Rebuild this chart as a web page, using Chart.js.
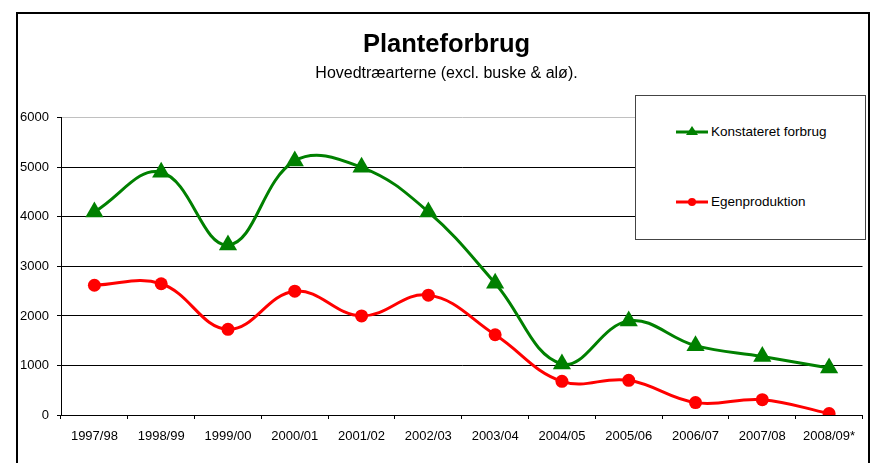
<!DOCTYPE html>
<html>
<head>
<meta charset="utf-8">
<script src="https://cdn.jsdelivr.net/npm/chart.js@4/dist/chart.umd.min.js"></script>
<style>
  html, body { margin: 0; padding: 0; background: #fff; }
  #wrap { position: relative; width: 873px; height: 463px; overflow: hidden; }
  #frame { position: absolute; left: 16px; top: 12px; width: 850px; height: 470px; border: 2px solid #000; }
  canvas { position: absolute; left: 0; top: 0; }
  #legend {
    position: absolute; left: 635px; top: 95px; width: 229px; height: 143px;
    border: 1px solid #444; background: #fff;
    font-family: "Liberation Sans", Arial, sans-serif; font-size: 13.5px; color: #000;
  }
  .item { position: absolute; left: 40px; height: 16px; line-height: 16px; white-space: nowrap; }
  .item svg { position: absolute; left: 0; top: -2px; }
  .item span { position: absolute; left: 35px; top: 0; }
</style>
</head>
<body>
<div id="wrap">
  <div id="frame"></div>
  <canvas id="chart" width="873" height="463"></canvas>
  <div id="legend">
    <div class="item" style="top:28px">
      <svg width="34" height="20"><line x1="0" y1="10" x2="32" y2="10" stroke="#008000" stroke-width="3"/><polygon points="16,4 22,13 10,13" fill="#008000"/></svg>
      <span>Konstateret forbrug</span>
    </div>
    <div class="item" style="top:98px">
      <svg width="34" height="20"><line x1="0" y1="10" x2="32" y2="10" stroke="#ff0000" stroke-width="3"/><circle cx="16" cy="10" r="4" fill="#ff0000"/></svg>
      <span>Egenproduktion</span>
    </div>
  </div>
</div>
<script>
var seasons = ['1997/98', '1998/99', '1999/00', '2000/01', '2001/02', '2002/03',
               '2003/04', '2004/05', '2005/06', '2006/07', '2007/08', '2008/09*'];
var konstateret = [4100, 4900, 3430, 5130, 5000, 4100, 2660, 1030, 1900, 1400, 1180, 950];
var egenproduktion = [2620, 2650, 1730, 2500, 2000, 2420, 1620, 680, 700, 250, 310, 30];
var yTicks = [0, 1000, 2000, 3000, 4000, 5000, 6000];

var font = "'Liberation Sans', Arial, sans-serif";

new Chart(document.getElementById('chart'), {
  type: 'line',
  data: {
    labels: seasons,
    datasets: [{
      label: 'Konstateret forbrug',
      data: konstateret,
      borderColor: '#008000',
      backgroundColor: '#008000',
      borderWidth: 3,
      pointStyle: 'triangle',
      pointRadius: 10.5,
      pointHoverRadius: 10.5,
      pointBorderWidth: 0,
      tension: 0.4
    }, {
      label: 'Egenproduktion',
      data: egenproduktion,
      borderColor: '#ff0000',
      backgroundColor: '#ff0000',
      borderWidth: 3,
      pointStyle: 'circle',
      pointRadius: 6.5,
      pointHoverRadius: 6.5,
      pointBorderWidth: 0,
      tension: 0.4
    }]
  },
  options: {
    responsive: false,
    animation: false,
    layout: { padding: { left: 17, right: -3, top: 14, bottom: 0 } },
    plugins: {
      legend: { display: false },
      tooltip: { enabled: false },
      title: {
        display: true,
        text: 'Planteforbrug',
        color: '#000',
        font: { family: font, size: 25.5, weight: 'bold' },
        padding: { top: 16, bottom: 0 }
      },
      subtitle: {
        display: true,
        text: 'Hovedtræarterne (excl. buske & alø).',
        color: '#000',
        font: { family: font, size: 16 },
        padding: { top: 3, bottom: 35 }
      }
    },
    scales: {
      x: {
        offset: true,
        afterFit: function (scale) { scale.height = 48; },
        grid: {
          offset: true,
          drawOnChartArea: false,
          drawTicks: true,
          tickLength: 4,
          color: '#000'
        },
        border: { color: '#000', width: 1 },
        ticks: {
          color: '#000',
          font: { family: font, size: 13 },
          padding: 10,
          maxRotation: 0,
          autoSkip: false
        }
      },
      y: {
        min: 0,
        max: 6000,
        afterFit: function (scale) { scale.width = 44; },
        afterBuildTicks: function (scale) {
          scale.ticks = yTicks.map(function (v) { return { value: v }; });
        },
        grid: {
          color: function (ctx) {
            return ctx.tick && ctx.tick.value === 6000 ? '#c0c0c0' : '#000';
          },
          tickColor: '#000',
          tickLength: 4,
          lineWidth: 1
        },
        border: { color: '#000', width: 1 },
        ticks: {
          color: '#000',
          font: { family: font, size: 13 },
          padding: 8,
          callback: function (v) { return String(v); }
        }
      }
    }
  }
});
</script>
</body>
</html>
